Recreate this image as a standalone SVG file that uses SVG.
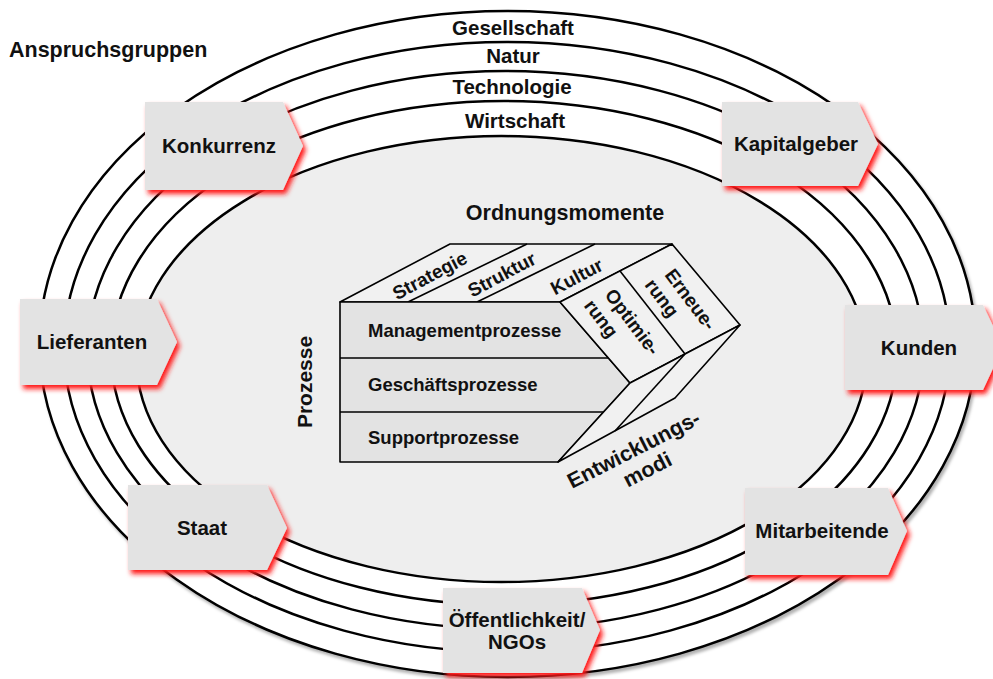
<svg xmlns="http://www.w3.org/2000/svg" width="993" height="679" viewBox="0 0 993 679">
<defs>
<filter id="ringShadow" x="-5%" y="-5%" width="110%" height="110%">
<feDropShadow dx="2" dy="3" stdDeviation="1.5" flood-color="#000" flood-opacity="0.3"/>
</filter>
<filter id="redGlow" x="-20%" y="-20%" width="140%" height="140%">
<feGaussianBlur in="SourceAlpha" stdDeviation="2.5" result="b"/>
<feOffset in="b" dx="3" dy="4" result="o"/>
<feFlood flood-color="#ff1a1a" flood-opacity="1"/>
<feComposite in2="o" operator="in" result="s"/>
<feMerge><feMergeNode in="s"/><feMergeNode in="SourceGraphic"/></feMerge>
</filter>
<style>
text{font-family:"Liberation Sans",Arial,Helvetica,sans-serif;font-weight:bold;fill:#111}
.ring{fill:#fff;stroke:#000;stroke-width:2.5}
.inner{fill:#eeeeee;stroke:#000;stroke-width:2.5}
.lbl{font-size:20.5px;text-anchor:middle}
.box{fill:#e3e3e3;stroke:none}
.face{stroke:#000;stroke-width:1.6;stroke-linejoin:round}
.front{fill:#e3e3e3}
.top{fill:#f1f1f1}
.side{fill:#f1f1f1}
.ln{stroke:#000;stroke-width:1.6;fill:none}
.in{font-size:18.5px}
.tp{font-size:19px}
</style>
</defs>
<rect width="993" height="679" fill="#fff"/>
<g id="rings" filter="url(#ringShadow)">
<ellipse class="ring" cx="507.5" cy="344" rx="468" ry="333"/>
<ellipse class="ring" cx="507" cy="347" rx="443" ry="305"/>
<ellipse class="ring" cx="505.5" cy="350" rx="418" ry="279"/>
<ellipse class="ring" cx="504" cy="353" rx="393" ry="252"/>
<ellipse class="inner" cx="501.5" cy="359" rx="365" ry="223"/>
</g>
<g id="ring-labels">
<text class="lbl" x="513" y="35">Gesellschaft</text>
<text class="lbl" x="513" y="63">Natur</text>
<text class="lbl" x="512" y="94">Technologie</text>
<text class="lbl" x="515" y="128">Wirtschaft</text>
</g>
<text x="9" y="57" style="font-size:21.5px">Anspruchsgruppen</text>
<g id="konkurrenz">
<polygon class="box" filter="url(#redGlow)" points="145,102 283,102 303,146 283,190 145,190"/>
<text class="lbl" x="219" y="153">Konkurrenz</text>
</g>
<g id="kapitalgeber">
<polygon class="box" filter="url(#redGlow)" points="722,102 858,102 878,144 858,186 722,186"/>
<text class="lbl" x="796" y="151">Kapitalgeber</text>
</g>
<g id="lieferanten">
<polygon class="box" filter="url(#redGlow)" points="20,299 157,299 177,342 157,385 20,385"/>
<text class="lbl" x="92" y="349">Lieferanten</text>
</g>
<g id="kunden">
<polygon class="box" filter="url(#redGlow)" points="845,305 983,305 1003,347 983,390 845,390"/>
<text class="lbl" x="919" y="355">Kunden</text>
</g>
<g id="staat">
<polygon class="box" filter="url(#redGlow)" points="128,485 267,485 287,528 267,570 128,570"/>
<text class="lbl" x="202" y="535">Staat</text>
</g>
<g id="mitarbeitende">
<polygon class="box" filter="url(#redGlow)" points="745,488 888,488 907,531 888,575 745,575"/>
<text class="lbl" x="822" y="538">Mitarbeitende</text>
</g>
<g id="oeffentlichkeit">
<polygon class="box" filter="url(#redGlow)" points="443,588 582,588 600,630 582,673 443,673"/>
<text class="lbl" x="517" y="627">Öffentlichkeit/</text>
<text class="lbl" x="517" y="649">NGOs</text>
</g>
<g id="model">
<text class="lbl" x="565" y="220" style="font-size:21.5px">Ordnungsmomente</text>
<text class="lbl" transform="translate(312,382) rotate(-90)" style="font-size:21px">Prozesse</text>
<polygon class="face top" points="340,302 450,244 672,244 560,302"/>
<line class="ln" x1="408" y1="302" x2="527" y2="244"/>
<line class="ln" x1="477" y1="302" x2="595" y2="244"/>
<polygon class="face front" points="340,302 560,302 630,383 558,462 340,462"/>
<line class="ln" x1="340" y1="358" x2="608" y2="358"/>
<line class="ln" x1="340" y1="412" x2="603.5" y2="412"/>
<polygon class="face side" points="560,302 672,244 740,325 630,383"/>
<line class="ln" x1="620" y1="271" x2="685" y2="354"/>
<polygon class="face side" points="630,383 740,325 675,398 558,462"/>
<line class="ln" x1="685" y1="354" x2="615" y2="431"/>
<text class="tp" text-anchor="middle" transform="translate(430,276) rotate(-28)" y="6">Strategie</text>
<text class="tp" text-anchor="middle" transform="translate(502,275) rotate(-28)" y="6">Struktur</text>
<text class="tp" text-anchor="middle" transform="translate(577,277) rotate(-28)" y="6">Kultur</text>
<g transform="translate(604,295) rotate(53)">
<text class="tp" x="0" y="0">Optimie-</text>
<text class="tp" x="-4" y="23">rung</text>
</g>
<g transform="translate(664,275) rotate(53)">
<text class="tp" x="0" y="0">Erneue-</text>
<text class="tp" x="-4" y="22">rung</text>
</g>
<text class="in" x="368" y="337">Managementprozesse</text>
<text class="in" x="368" y="391">Geschäftsprozesse</text>
<text class="in" x="368" y="444">Supportprozesse</text>
<g transform="translate(637,456) rotate(-27)">
<text class="lbl" x="0" y="0" style="font-size:21.5px">Entwicklungs-</text>
<text class="lbl" x="3" y="24" style="font-size:21.5px">modi</text>
</g>
</g>
</svg>
